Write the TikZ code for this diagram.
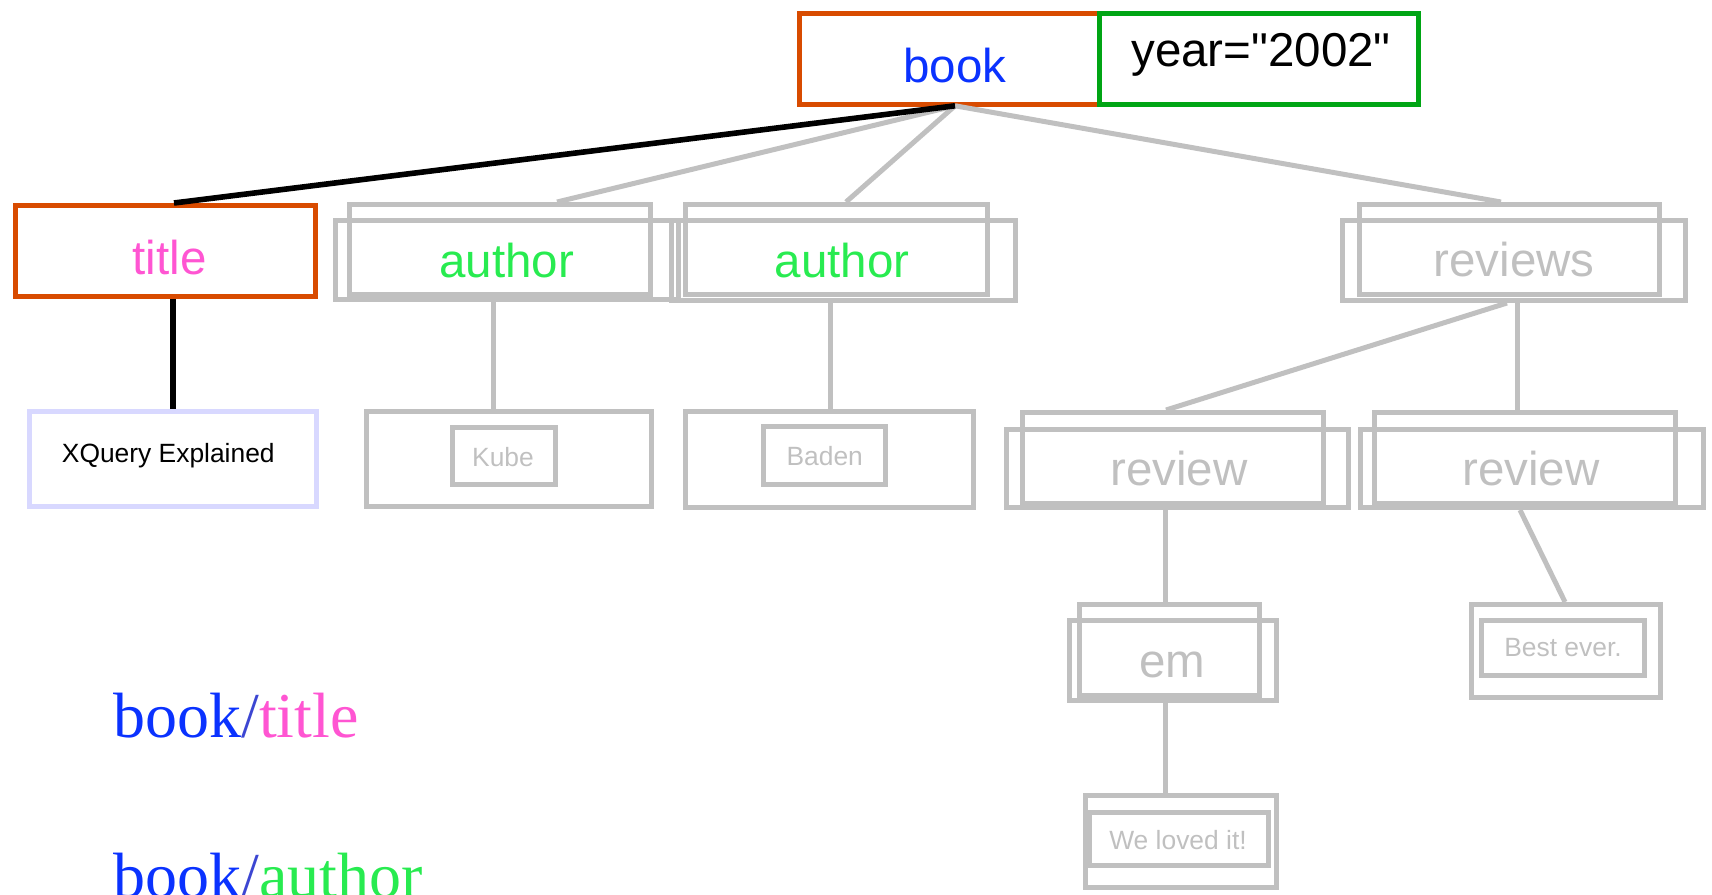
\documentclass[tikz,border=0pt]{standalone}
\usepackage{fontspec}
\setmainfont{Liberation Serif}
\newfontfamily\sansf{Liberation Sans}
\usetikzlibrary{fit}
\definecolor{orangeb}{RGB}{216,75,0}
\definecolor{greenb}{RGB}{0,165,20}
\definecolor{bluet}{RGB}{10,50,255}
\definecolor{pinkt}{RGB}{255,85,210}
\definecolor{greent}{RGB}{40,235,80}
\definecolor{grayc}{RGB}{192,192,192}
\definecolor{lav}{RGB}{216,216,255}
\definecolor{slashc}{RGB}{60,70,210}
\begin{document}
\begin{tikzpicture}[x=0.5pt,y=-0.5pt,
  box/.style={draw, rectangle, inner sep=0pt, line width=2.5pt},
  gbox/.style={box, draw=grayc},
  big/.style={inner sep=0pt, anchor=base, font=\sansf\fontsize{23.75}{28}\selectfont},
  small/.style={inner sep=0pt, anchor=base, font=\sansf\fontsize{13.2}{16}\selectfont},
  gline/.style={draw=grayc, line width=2.5pt},
  bline/.style={draw=black, line width=2.8pt}]
\useasboundingbox (0,0) rectangle (1712,894);

% top
\node[box, draw=orangeb, fit={(799.5,13.5) (1099,104.5)}] (book) {};
\node[box, draw=greenb, fit={(1099,13.5) (1418.5,104.5)}] (year) {};
\node[big, text=bluet] (tbook) at (955,82) {book};
\node[big, text=black] (tyear) at (1261,66) {year="2002"};
\coordinate (bk) at ([xshift=2.875pt,yshift=0.6pt]book.south);

% second row
\node[box, draw=orangeb, fit={(15.5,205.5) (315.5,296.5)}] (title) {};
\node[big, text=pinkt] (ttitle) at (169.5,274) {title};

\node[gbox, fit={(349.5,204.5) (650.5,294.5)}] (a1b) {};
\node[gbox, fit={(335.5,220.5) (678.5,299.5)}] (a1f) {};
\node[big, text=greent] (tauth1) at (506.7,277) {author};

\node[gbox, fit={(685.5,204.5) (987.5,294.5)}] (a2b) {};
\node[gbox, fit={(671.5,220.5) (1015.5,300.5)}] (a2f) {};
\node[big, text=greent] (tauth2) at (842,277) {author};

\node[gbox, fit={(1359.5,204.5) (1659.5,294.5)}] (rvb) {};
\node[gbox, fit={(1342.5,220.5) (1685.5,300.5)}] (rvf) {};
\node[big, text=grayc] (treviews) at (1514,276) {reviews};

% third row
\node[box, draw=lav, fit={(29.5,411.5) (316.5,506.5)}] (xq) {};
\node[small, text=black] (txq) at (168.3,462.3) {XQuery Explained};

\node[gbox, fit={(366.5,411.5) (651.5,506.5)}] (kube) {};
\node[gbox, fit={(452.5,427.5) (555.5,484.5)}] (kubei) {};
\node[small, text=grayc] (tkube) at (503,466.7) {Kube};

\node[gbox, fit={(685.5,411.5) (973.5,507.5)}] (baden) {};
\node[gbox, fit={(763.5,426.5) (885.5,484.5)}] (badeni) {};
\node[small, text=grayc] (tbaden) at (824.7,465) {Baden};

\node[gbox, fit={(1022.5,412.5) (1323.5,503.5)}] (r1b) {};
\node[gbox, fit={(1006.5,429.5) (1348.5,507.5)}] (r1f) {};
\node[big, text=grayc] (trev1) at (1179,485) {review};

\node[gbox, fit={(1374.5,412.5) (1675.5,503.5)}] (r2b) {};
\node[gbox, fit={(1360.5,429.5) (1703.5,507.5)}] (r2f) {};
\node[big, text=grayc] (trev2) at (1531,485) {review};

% fourth row
\node[gbox, fit={(1079.5,604.5) (1259.5,695.5)}] (emb) {};
\node[gbox, fit={(1069.5,620.5) (1276.5,700.5)}] (emf) {};
\node[big, text=grayc] (tem) at (1172,677) {em};

\node[gbox, fit={(1471.5,604.5) (1660.5,697.5)}] (best) {};
\node[gbox, fit={(1481.5,620.5) (1644.5,675.5)}] (besti) {};
\node[small, text=grayc] (tbest) at (1563,656) {Best ever.};

% fifth row
\node[gbox, fit={(1085.5,795.5) (1276.5,887.5)}] (we) {};
\node[gbox, fit={(1089.5,812.5) (1268.5,865.5)}] (wei) {};
\node[small, text=grayc] (twe) at (1178,849) {We loved it!};

% connectors
\draw[gline] (bk) -- ([xshift=28.5pt]a1b.north);
\draw[gline] (bk) -- ([xshift=4.75pt]a2b.north);
\draw[gline] (bk) -- ([xshift=-4.25pt]rvb.north);
\draw[bline] (bk) -- ([xshift=4.25pt]title.north);
\draw[bline] ([xshift=3.75pt]title.south) -- (xq.north);
\draw[gline] ([xshift=-7pt]a1f.south) -- ([xshift=-8pt]kube.north);
\draw[gline] ([xshift=-6.75pt]a2f.south) -- ([xshift=0.25pt]baden.north);
\draw[gline] ([xshift=-3.5pt]rvf.south) -- ([xshift=-3.5pt]r1b.north);
\draw[gline] ([xshift=1.5pt]rvf.south) -- ([xshift=-4pt]r2b.north);
\draw[gline] ([xshift=-6.25pt]r1f.south) -- ([xshift=-2.25pt]emb.north);
\draw[gline] ([xshift=-6pt]r2f.south) -- ([xshift=-0.5pt]best.north);
\draw[gline] ([xshift=-4pt]emf.south) -- ([xshift=-8pt]we.north);

% paths
\node[inner sep=0pt, anchor=base west, font=\fontsize{32}{38}\selectfont] (p1) at (113,737)
  {\textcolor{bluet}{book}\textcolor{slashc}{/}\textcolor{pinkt}{title}};
\node[inner sep=0pt, anchor=base west, font=\fontsize{32}{38}\selectfont] (p2) at (113,897)
  {\textcolor{bluet}{book}\textcolor{slashc}{/}\textcolor{greent}{author}};
\end{tikzpicture}
\end{document}
